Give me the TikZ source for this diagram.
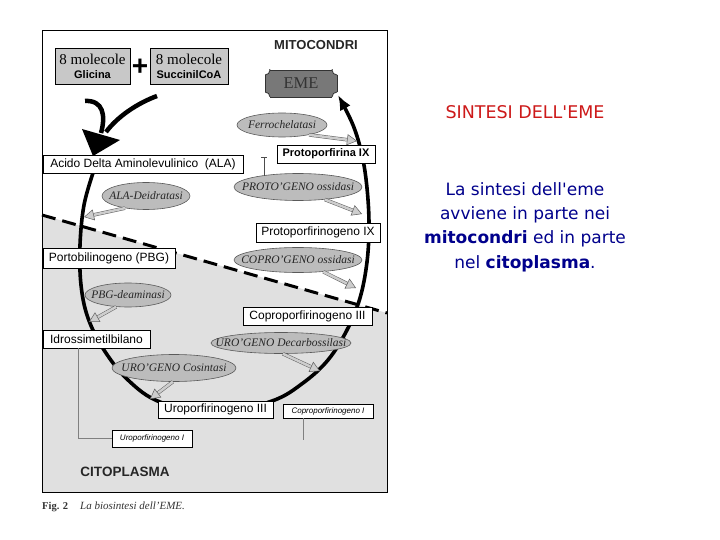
\documentclass[tikz,border=0pt]{standalone}
\usepackage{fontspec}
\setmainfont{Liberation Serif}
\setsansfont{Liberation Sans}
\newfontfamily\rightfont{DejaVu Sans}
\usetikzlibrary{shapes.geometric,arrows.meta,calc}
\definecolor{bggray}{RGB}{224,224,224}
\definecolor{boxgray}{RGB}{200,200,200}
\definecolor{enzgray}{RGB}{188,188,188}
\definecolor{enzline}{RGB}{90,90,90}
\definecolor{emegray}{RGB}{120,120,120}
\definecolor{arrfill}{RGB}{205,205,205}
\definecolor{arrline}{RGB}{95,95,95}
\definecolor{titred}{RGB}{205,25,25}
\definecolor{txtblue}{RGB}{0,0,140}
\begin{document}
\begin{tikzpicture}[x=1pt,y=-1pt,
  box/.style={draw, fill=white, line width=0.8pt, inner sep=1pt, font=\sffamily\fontsize{12}{14}\selectfont},
  gbox/.style={draw, fill=boxgray, line width=0.7pt, align=center, inner sep=1pt},
  smallbox/.style={draw, fill=white, line width=0.7pt, inner sep=1pt, font=\sffamily\itshape\fontsize{8}{9}\selectfont},
  enz/.style={ellipse, draw=enzline, fill=enzgray, line width=0.6pt, inner xsep=-30pt, inner ysep=-4pt, font=\itshape\fontsize{11.5}{13}\selectfont, text=black!85},
  garrow/.style={draw=arrline, line width=0.5pt, double=arrfill, double distance=2.5pt, -{Triangle[length=10pt,width=11pt,fill=arrfill]}},
  mainline/.style={line width=3.6pt},
  thinline/.style={draw=gray, line width=0.7pt},
  rtext/.style={font=\rightfont\fontsize{17}{20}\selectfont, text=txtblue}
]
\useasboundingbox (0,0) rectangle (720,540);
\fill[white] (0,0) rectangle (720,540);

% background areas
\fill[bggray] (42,215) -- (387,313) -- (387,492) -- (42,492) -- cycle;
\draw[line width=0.8pt] (42,30) rectangle (387,492);
\coordinate (dl) at (42,215);
\coordinate (dr) at (387,313);
\draw[line width=3pt, dash pattern=on 14pt off 7pt] (dl) -- (dr);

% main cycle curve
\coordinate (m0) at (93,173);
\coordinate (m20) at (338,95);
\draw[mainline, -{Latex[length=15pt,width=12pt]}] plot[smooth, tension=0.6] coordinates {(m0) (84,205) (80,245) (81,285) (88,318) (104,350) (128,380) (160,402) (215,414) (272,401) (303,383) (328,360) (347,330) (360,298) (367,262) (369,225) (367,188) (362,155) (353,125) (m20)};

% input arrows
\coordinate (g0) at (85,101);
\coordinate (s0) at (157,96);
\coordinate (h1) at (101,133);
\coordinate (h2) at (106,132);
\draw[line width=4.5pt] (g0) .. controls (103,100) and (106,115) .. (h1);
\draw[line width=4.5pt] (s0) .. controls (138,103) and (118,116) .. (h2);
\fill (82,129) -- (120,140) -- (93,156) -- cycle;

% gray input boxes
\node[gbox, minimum width=75, minimum height=36] (gly) at (92.5,66.5)
  {\fontsize{15}{15}\selectfont 8 molecole\\[2pt]{\sffamily\bfseries\fontsize{11}{11}\selectfont Glicina}};
\node[gbox, minimum width=78, minimum height=36] (suc) at (189,66.5)
  {\fontsize{15}{15}\selectfont 8 molecole\\[2pt]{\sffamily\bfseries\fontsize{11}{11}\selectfont SuccinilCoA}};
\node[font=\sffamily\bfseries\fontsize{28}{28}\selectfont, inner sep=0] (plus) at (140,67) {+};
\node[font=\sffamily\bfseries\fontsize{13}{14}\selectfont, text=black!85] (mito) at (316,45) {MITOCONDRI};

% EME plaque
\begin{scope}
  \clip (265,70) rectangle (337,97);
  \fill[emegray] (265,70) rectangle (337,97);
  \draw[fill=white, line width=0.8pt, draw=black!80] (265,70) circle[radius=5pt] (337,70) circle[radius=5pt] (337,97) circle[radius=5pt] (265,97) circle[radius=5pt];
\end{scope}
\draw[line width=0.8pt, draw=black!80] (270,70) -- (332,70) (337,75) -- (337,92) (332,97) -- (270,97) (265,92) -- (265,75);
\node[font=\fontsize{16.5}{17}\selectfont, text=black!80, minimum width=72, minimum height=27] (eme) at (301,83.5) {EME};

% enzymes
\node[enz, minimum width=90, minimum height=24] (ferro) at (282,125) {Ferrochelatasi};
\node[enz, minimum width=88, minimum height=27] (alad) at (146,196) {ALA-Deidratasi};
\node[enz, minimum width=128, minimum height=27] (protoox) at (298,187) {PROTO'GENO ossidasi};
\node[enz, minimum width=128, minimum height=25] (coproox) at (298,260) {COPRO'GENO ossidasi};
\node[enz, minimum width=86, minimum height=24] (pbgd) at (128,295) {PBG-deaminasi};
\node[enz, minimum width=140, minimum height=21] (urod) at (281,343) {URO'GENO Decarbossilasi};
\node[enz, minimum width=124, minimum height=27] (uroc) at (174,368) {URO'GENO Cosintasi};

% gray enzyme arrows
\coordinate (fa) at (357,141);
\coordinate (aa) at (84,217);
\coordinate (pa) at (362,214);
\coordinate (ca) at (356,288);
\coordinate (ba) at (89,322);
\coordinate (da) at (320,371);
\coordinate (ua) at (150,399);
\draw[garrow] (ferro.-20) -- (fa);
\draw[garrow] (alad.-150) -- (aa);
\draw[garrow] (protoox.-25) -- (pa);
\draw[garrow] (coproox.-25) -- (ca);
\draw[garrow] (pbgd.-135) -- (ba);
\draw[garrow] (urod.-80) -- (da);
\draw[garrow] (uroc.-95) -- (ua);

% tick above PROTO'GENO ossidasi
\coordinate (tk) at (264,157);
\draw[draw=black!70, line width=0.6pt] (264,176) -- (tk) (261,157) -- (267,157);

% metabolite boxes
\node[box, minimum width=200, minimum height=18] (ala) at (143,164) {Acido Delta Aminolevulinico\ \ (ALA)};
\node[box, minimum width=98, minimum height=18, font=\sffamily\bfseries\fontsize{11}{13}\selectfont] (protoIX) at (326,154) {Protoporfirina IX};
\node[box, minimum width=124, minimum height=19] (protogen) at (318,232.5) {Protoporfirinogeno IX};
\node[box, minimum width=132, minimum height=20] (pbg) at (109,258) {Portobilinogeno (PBG)};
\node[box, minimum width=129, minimum height=18] (coproIII) at (307.5,316) {Coproporfirinogeno III};
\node[box, minimum width=107, minimum height=18] (idro) at (96.5,339) {Idrossimetilbilano};
\node[box, minimum width=115, minimum height=17] (uroIII) at (215.5,409.5) {Uroporfirinogeno III};
\node[smallbox, minimum width=90, minimum height=14] (coproI) at (328,411) {Coproporfirinogeno I};
\node[smallbox, minimum width=80, minimum height=17] (uroI) at (152,438.5) {Uroporfirinogeno I};

% thin side branches
\coordinate (cb) at (303,440);
\draw[thinline] (idro.south -| 78,0) |- (uroI.west);
\draw[thinline] (coproI.south -| cb) -- (cb);

\node[font=\sffamily\bfseries\fontsize{13.5}{15}\selectfont, text=black!85] (cito) at (125,472) {CITOPLASMA};

% caption
\node[anchor=west, inner sep=0, font=\fontsize{10.5}{12}\selectfont, text=black!80] (cap) at (42,507) {\textbf{Fig. 2}\hspace{12pt}{\fontsize{11}{12}\selectfont\textit{La biosintesi dell'EME.}}};

% right-hand text
\node[font=\rightfont\fontsize{17.5}{20}\selectfont, text=titred] (title) at (525,112) {SINTESI DELL'EME};
\node[rtext, align=center] (desc) at (525,227) {La sintesi dell'eme\\[4.3pt]avviene in parte nei\\[4.3pt]\textbf{mitocondri} ed in parte\\[4.3pt]nel \textbf{citoplasma}.};
\end{tikzpicture}
\end{document}
